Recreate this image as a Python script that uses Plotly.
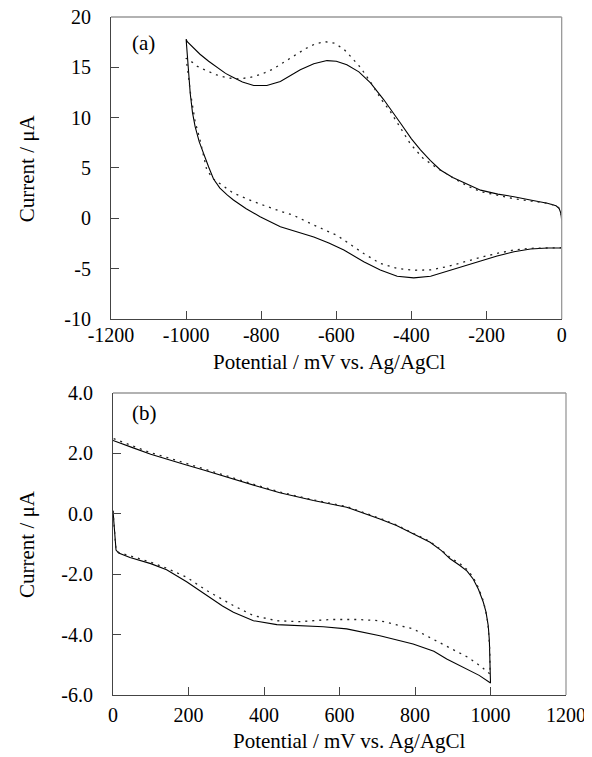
import plotly.graph_objects as go

# ---- data ----
# (a) cycle 0 -> -1000 -> 0 mV, solid trace
a_solid_mv = [0, -38, -83, -127, -172, -216, -260, -305, -349, -394, -438, -483, -527,
              -580, -620, -660, -696, -749, -803, -840, -874, -890, -910, -927, -940,
              -954, -965, -976, -983, -989, -993, -997, -1000,
              -997, -980, -963, -940, -919, -895, -874, -850, -820, -785, -749, -720,
              -696, -660, -625, -600, -572, -540, -509, -474, -450, -429, -400, -376,
              -350, -323, -290, -265, -240, -216, -170, -127, -80, -38, -15, -7, -2, 0]
a_solid_ua = [-2.95, -2.95, -3.05, -3.32, -3.75, -4.24, -4.80, -5.30, -5.75, -5.92, -5.76,
              -5.14, -4.31, -3.15, -2.45, -1.85, -1.45, -0.83, 0.16, 0.95, 1.82, 2.30,
              3.00, 3.90, 5.10, 6.45, 7.60, 9.10, 10.5, 12.4, 14.5, 16.8, 17.8,
              17.55, 16.9, 16.3, 15.6, 15.0, 14.4, 14.0, 13.55, 13.2, 13.2, 13.6, 14.2,
              14.75, 15.35, 15.67, 15.6, 15.25, 14.55, 13.45, 11.8, 10.6, 9.45, 7.9,
              6.8, 5.75, 4.8, 4.05, 3.6, 3.15, 2.80, 2.40, 2.15, 1.80, 1.50, 1.25, 1.0,
              0.5, -0.2]

# (a) dashed trace
a_dash_mv = [0, -38, -83, -127, -172, -216, -260, -305, -349, -394, -438, -483, -527,
             -560, -598, -660, -696, -714, -749, -785, -820, -874, -927, -945, -963,
             -976, -989, -995, -1000,
             -994, -970, -945, -919, -890, -860, -830, -800, -770, -740, -710, -680,
             -655, -630, -605, -580, -560, -536, -510, -480, -456, -430, -403, -370,
             -332, -288, -250, -216, -170, -127, -80, -38, -15, -7, -2, 0]
a_dash_ua = [-2.92, -2.92, -2.98, -3.15, -3.48, -3.88, -4.31, -4.80, -5.12, -5.16, -4.97,
             -4.48, -3.50, -2.70, -1.70, -0.67, 0.0, 0.30, 0.70, 1.20, 1.65, 2.50, 3.90,
             4.80, 7.80, 9.60, 12.6, 14.5, 15.9,
             15.8, 15.1, 14.65, 14.25, 13.95, 13.85, 14.0, 14.3, 14.8, 15.5, 16.2, 16.9,
             17.35, 17.55, 17.4, 16.8, 16.0, 15.0, 13.6, 11.8, 10.6, 9.0, 7.4, 6.0,
             5.0, 4.0, 3.2, 2.65, 2.25, 1.95, 1.70, 1.50, 1.25, 1.0, 0.5, -0.2]

# (b) cycle 0 -> 1000 -> 0 mV, solid trace
b_solid_mv = [0, 3, 8, 15, 45, 100, 142, 195, 248, 290, 319, 372, 434, 495, 557, 619,
              707, 795, 850, 884, 937, 970, 1000,
              999, 997, 994, 988, 981, 968, 954, 938, 919, 893, 870, 840, 795, 751, 707,
              660, 619, 531, 495, 442, 380, 319, 240, 190, 142, 100, 50, 20, 0]
b_solid_ua = [0.10, -0.50, -1.20, -1.30, -1.45, -1.65, -1.85, -2.25, -2.71, -3.05, -3.26,
              -3.54, -3.67, -3.70, -3.74, -3.81, -4.04, -4.31, -4.55, -4.81, -5.14,
              -5.35, -5.60,
              -4.80, -4.20, -3.70, -3.25, -2.93, -2.50, -2.16, -1.90, -1.71, -1.49,
              -1.22, -0.94, -0.66, -0.39, -0.17, 0.03, 0.22, 0.44, 0.55, 0.70, 0.92,
              1.16, 1.45, 1.63, 1.82, 1.97, 2.20, 2.33, 2.43]

# (b) dashed trace
b_dash_mv = [0, 3, 8, 15, 45, 100, 142, 195, 248, 319, 372, 434, 495, 575, 650, 707,
             795, 884, 940, 972, 999,
             998, 996, 993, 987, 980, 968, 954, 938, 919, 893, 870, 840, 795, 751, 707,
             660, 619, 531, 495, 442, 380, 319, 240, 190, 142, 100, 50, 20, 0]
b_dash_ua = [0.10, -0.50, -1.20, -1.28, -1.40, -1.60, -1.80, -2.10, -2.54, -3.04, -3.37,
             -3.54, -3.57, -3.50, -3.50, -3.54, -3.81, -4.37, -4.75, -5.03, -5.31,
             -4.50, -4.00, -3.60, -3.20, -2.85, -2.45, -2.10, -1.85, -1.65, -1.45,
             -1.20, -0.92, -0.64, -0.37, -0.15, 0.05, 0.24, 0.46, 0.57, 0.72, 0.95,
             1.19, 1.49, 1.68, 1.87, 2.02, 2.26, 2.40, 2.50]

a_xticks = [-1200, -1000, -800, -600, -400, -200, 0]
a_yticks = [-10, -5, 0, 5, 10, 15, 20]
b_xticks = [0, 200, 400, 600, 800, 1000, 1200]
b_yticks = [-6.0, -4.0, -2.0, 0.0, 2.0, 4.0]

X_TITLE = "Potential / mV vs. Ag/AgCl"
Y_TITLE = "Current / μA"

# ---- styling ----
FONT = "Liberation Serif, 'Times New Roman', DejaVu Serif, serif"
AXIS_COL = "#444444"
FRAME_COL = "#999999"
DASH = "2px,5px"

fig = go.Figure()

fig.add_trace(go.Scatter(x=a_solid_mv, y=a_solid_ua, mode="lines",
                         line=dict(color="black", width=1.1), xaxis="x", yaxis="y"))
fig.add_trace(go.Scatter(x=a_dash_mv, y=a_dash_ua, mode="lines",
                         line=dict(color="#222222", width=1.3, dash=DASH), xaxis="x", yaxis="y"))
fig.add_trace(go.Scatter(x=b_solid_mv, y=b_solid_ua, mode="lines",
                         line=dict(color="black", width=1.1), xaxis="x2", yaxis="y2"))
fig.add_trace(go.Scatter(x=b_dash_mv, y=b_dash_ua, mode="lines",
                         line=dict(color="#222222", width=1.3, dash=DASH), xaxis="x2", yaxis="y2"))

ax_common = dict(showgrid=False, zeroline=False, showline=True, linecolor=AXIS_COL,
                 linewidth=1, ticks="inside", ticklen=8, tickcolor=AXIS_COL,
                 tickwidth=1, automargin=False, ticklabeloverflow="allow",
                 tickfont=dict(family=FONT, size=20, color="black"))

# plain hyphen for negatives, as in the original
fmt_a_x = [str(v) for v in a_xticks]
fmt_a_y = [str(v) for v in a_yticks]
fmt_b_x = [str(v) for v in b_xticks]
fmt_b_y = [f"{v:.1f}" for v in b_yticks]

# page body adds an 8px margin, so the figure is 8px smaller than the window
fig.update_layout(
    width=584, height=749,
    margin=dict(l=103, r=26, t=9, b=62, autoexpand=False),
    paper_bgcolor="white", plot_bgcolor="white",
    showlegend=False, hovermode=False,
    font=dict(family=FONT, color="black"),
    xaxis=dict(ax_common, domain=[0, 0.9905], range=[-1200, 0], tickvals=a_xticks,
               ticktext=fmt_a_x, anchor="y", ticklabelstandoff=-2),
    yaxis=dict(ax_common, domain=[0.5546, 1], range=[-10, 20], tickvals=a_yticks,
               ticktext=fmt_a_y, anchor="x", ticklabelstandoff=15),
    xaxis2=dict(ax_common, domain=[0.0044, 1], range=[0, 1200], tickvals=b_xticks,
                ticktext=fmt_b_x, anchor="y2", ticklabelstandoff=2),
    yaxis2=dict(ax_common, domain=[0, 0.4454], range=[-6, 4], tickvals=b_yticks,
                ticktext=fmt_b_y, anchor="x2", ticklabelstandoff=15),
)

# light grey top / right frame
for xr, yr in [("x domain", "y domain"), ("x2 domain", "y2 domain")]:
    fig.add_shape(type="line", xref=xr, yref=yr, x0=0, x1=1, y0=1, y1=1,
                  line=dict(color=FRAME_COL, width=1.3))
    fig.add_shape(type="line", xref=xr, yref=yr, x0=1, x1=1, y0=0, y1=1,
                  line=dict(color=FRAME_COL, width=1.3))

title_font = dict(family=FONT, size=21, color="black")
notes = [
    dict(x=0.481, y=0.4912, text=X_TITLE, textangle=0, yanchor="middle"),
    dict(x=0.525, y=-0.0885, text=X_TITLE, textangle=0, yanchor="bottom"),
    dict(x=-0.1846, y=0.777, text=Y_TITLE, textangle=-90, yanchor="middle"),
    dict(x=-0.1846, y=0.2227, text=Y_TITLE, textangle=-90, yanchor="middle"),
    dict(x=0.0725, y=0.9617, text="(a)", textangle=0, yanchor="middle"),
    dict(x=0.0747, y=0.416, text="(b)", textangle=0, yanchor="middle"),
]
for n in notes:
    fig.add_annotation(xref="paper", yref="paper", showarrow=False,
                       xanchor="center", font=title_font, **n)

fig.write_html("out.html")
